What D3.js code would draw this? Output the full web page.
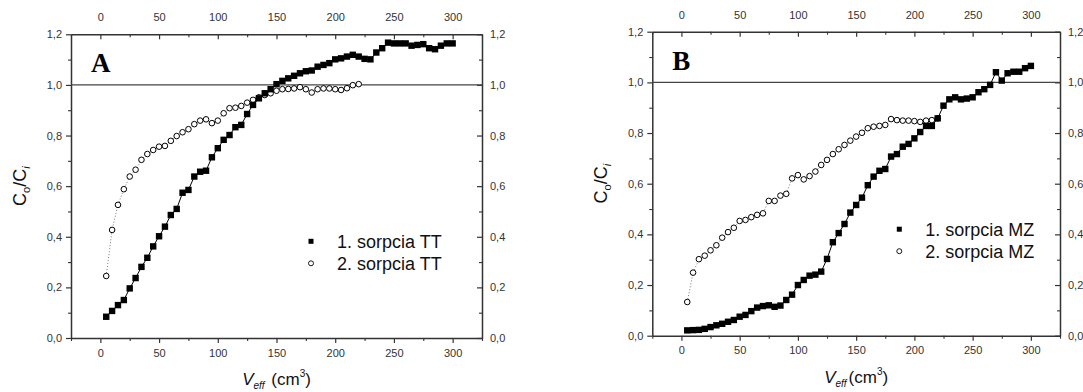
<!DOCTYPE html>
<html><head><meta charset="utf-8">
<script src="https://cdn.jsdelivr.net/npm/d3@7"></script>
<style>
body{margin:0;background:#fff;}
svg{display:block;font-family:Arial,"Liberation Sans",sans-serif;}
</style></head><body>
<svg id="c" width="1083" height="392"></svg>
<script>
// ---- data ----
const volA1 = [5,10,15,20,25,30,35,40,45,50,55,60,65,70,75,80,85,90,95,100,105,110,115,120,125,130,135,140,145,150,155,160,165,170,175,180,185,190,195,200,205,210,215,220,225,230,235,240,245,250,255,260,265,270,275,280,285,290,295,300];
const ccA1 = [0.084,0.107,0.130,0.150,0.196,0.237,0.281,0.317,0.362,0.402,0.440,0.486,0.510,0.574,0.585,0.638,0.657,0.661,0.714,0.750,0.783,0.802,0.833,0.842,0.885,0.921,0.947,0.967,0.983,1.003,1.016,1.026,1.036,1.046,1.054,1.057,1.072,1.079,1.086,1.101,1.105,1.112,1.119,1.112,1.103,1.101,1.128,1.145,1.167,1.164,1.164,1.164,1.155,1.158,1.161,1.145,1.141,1.155,1.164,1.164];
const volA2 = [5,10,15,20,25,30,35,40,45,50,55,60,65,70,75,80,85,90,95,100,105,110,115,120,125,130,135,140,145,150,155,160,165,170,175,180,185,190,195,200,205,210,215,220];
const ccA2 = [0.245,0.427,0.526,0.588,0.638,0.665,0.704,0.727,0.743,0.756,0.759,0.779,0.798,0.813,0.825,0.845,0.859,0.864,0.849,0.859,0.888,0.908,0.910,0.917,0.930,0.941,0.951,0.960,0.967,0.977,0.983,0.984,0.986,0.991,0.983,0.970,0.983,0.986,0.986,0.983,0.980,0.987,0.999,1.003];
const volB1 = [5,10,15,20,25,30,35,40,45,50,55,60,65,70,75,80,85,90,95,100,105,110,115,120,125,130,135,140,145,150,155,160,165,170,175,180,185,190,195,200,205,210,215,220,225,230,235,240,245,250,255,260,265,270,275,280,285,290,295,300];
const ccB1 = [0.021,0.022,0.023,0.027,0.034,0.041,0.047,0.055,0.062,0.075,0.082,0.097,0.111,0.117,0.120,0.114,0.119,0.141,0.162,0.200,0.220,0.237,0.241,0.253,0.303,0.369,0.405,0.441,0.486,0.516,0.545,0.594,0.628,0.651,0.658,0.707,0.717,0.746,0.757,0.779,0.804,0.828,0.828,0.858,0.908,0.933,0.941,0.933,0.936,0.941,0.961,0.973,0.990,1.040,1.007,1.036,1.042,1.042,1.056,1.065];
const volB2 = [5,10,15,20,25,30,35,40,45,50,55,60,65,70,75,80,85,90,95,100,105,110,115,120,125,130,135,140,145,150,155,160,165,170,175,180,185,190,195,200,205,210,215,220];
const ccB2 = [0.133,0.249,0.302,0.316,0.337,0.357,0.387,0.409,0.426,0.453,0.457,0.468,0.477,0.483,0.532,0.532,0.553,0.560,0.621,0.634,0.617,0.630,0.648,0.674,0.694,0.717,0.736,0.753,0.770,0.786,0.801,0.819,0.825,0.828,0.832,0.855,0.851,0.849,0.849,0.847,0.844,0.849,0.851,0.858];
const xTicks = [0,50,100,150,200,250,300];
const xMinor = [-25,25,75,125,175,225,275,325];
const yTicks = [0,0.2,0.4,0.6,0.8,1.0,1.2];
const yMinor = [0.1,0.3,0.5,0.7,0.9,1.1];
const xDomain = [-25,325];
const yDomain = [0,1.2];
const refLevel = 1.0;
const legendA = ["1. sorpcia TT","2. sorpcia TT"];
const legendB = ["1. sorpcia MZ","2. sorpcia MZ"];
const letters = ["A","B"];

const svg = d3.select("#c");
const fmt = v => d3.format(".1f")(v).replace(".", ",");
const axisCol = "#333";

function panel(o){
  const x = d3.scaleLinear().domain(xDomain).range([o.l, o.r]);
  const y = d3.scaleLinear().domain(yDomain).range([o.b, o.t]);
  const g = svg.append("g");
  const style = sel => {
    sel.select(".domain").attr("stroke", axisCol).attr("stroke-width", 1.5);
    sel.selectAll(".tick line").attr("stroke", axisCol).attr("stroke-width", 1.2);
    sel.selectAll(".tick text").attr("fill", "#333").style("font-size", "11px").style("font-family", "Arial,'Liberation Sans',sans-serif");
  };
  const minorStyle = sel => {
    sel.select(".domain").remove();
    sel.selectAll(".tick line").attr("stroke", axisCol).attr("stroke-width", 1.1);
    sel.selectAll(".tick text").remove();
  };
  g.append("g").attr("transform", `translate(0,${o.b})`)
    .call(d3.axisBottom(x).tickValues(xTicks).tickFormat(d3.format("d")).tickSize(5).tickSizeOuter(0).tickPadding(6)).call(style);
  g.append("g").attr("transform", `translate(0,${o.b})`)
    .call(d3.axisBottom(x).tickValues(xMinor).tickSize(3)).call(minorStyle);
  g.append("g").attr("transform", `translate(0,${o.t})`)
    .call(d3.axisTop(x).tickValues(xTicks).tickFormat(d3.format("d")).tickSizeInner(-5).tickSizeOuter(0).tickPadding(13)).call(style);
  g.append("g").attr("transform", `translate(0,${o.t})`)
    .call(d3.axisTop(x).tickValues(xMinor).tickSize(-3)).call(minorStyle);
  g.append("g").attr("transform", `translate(${o.l},0)`)
    .call(d3.axisLeft(y).tickValues(yTicks).tickFormat(fmt).tickSize(5).tickSizeOuter(0).tickPadding(4)).call(style);
  g.append("g").attr("transform", `translate(${o.l},0)`)
    .call(d3.axisLeft(y).tickValues(yMinor).tickSize(3)).call(minorStyle);
  g.append("g").attr("transform", `translate(${o.r},0)`)
    .call(d3.axisRight(y).tickValues(yTicks).tickFormat(fmt).tickSizeInner(-5).tickSizeOuter(0).tickPadding(8)).call(style);
  g.append("g").attr("transform", `translate(${o.r},0)`)
    .call(d3.axisRight(y).tickValues(yMinor).tickSize(-3)).call(minorStyle);

  g.append("line").attr("x1", o.l).attr("x2", o.r).attr("y1", y(refLevel)).attr("y2", y(refLevel))
    .attr("stroke", "#444").attr("stroke-width", 1.3);

  const d2 = o.x2.map((v,i)=>[v,o.y2[i]]);
  const d1 = o.x1.map((v,i)=>[v,o.y1[i]]);
  const line = d3.line().x(d=>x(d[0])).y(d=>y(d[1]));
  g.append("path").attr("d", line(d2)).attr("fill","none").attr("stroke","#777").attr("stroke-width",1).attr("stroke-dasharray","1,2");
  g.append("path").attr("d", line(d1)).attr("fill","none").attr("stroke","#000").attr("stroke-width",1);
  g.selectAll(".c").data(d2).join("circle").attr("cx",d=>x(d[0])).attr("cy",d=>y(d[1])).attr("r",2.8)
    .attr("fill","#fff").attr("stroke","#000").attr("stroke-width",1);
  g.selectAll(".s").data(d1).join("rect").attr("x",d=>x(d[0])-3.2).attr("y",d=>y(d[1])-3.2).attr("width",6.4).attr("height",6.4).attr("fill","#000");

  g.append("text").attr("x", o.l + 20).attr("y", o.t + 38).text(o.letter)
    .style("font-family","'Times New Roman','Liberation Serif',serif").style("font-weight","bold").style("font-size","27px");

  const lx = o.l + o.legX, ly = o.t + o.legY;
  g.append("rect").attr("x", lx-2.5).attr("y", ly-2.5).attr("width",5).attr("height",5).attr("fill","#000");
  g.append("circle").attr("cx", lx).attr("cy", ly+22).attr("r",2.5).attr("fill","#fff").attr("stroke","#000").attr("stroke-width",0.9);
  g.append("text").attr("x", lx+26).attr("y", ly+7).text(o.leg[0]).style("font-size","18px").attr("fill","#111");
  g.append("text").attr("x", lx+26).attr("y", ly+29).text(o.leg[1]).style("font-size","18px").attr("fill","#111");

  const xt = g.append("text").attr("x", (o.l+o.r)/2).attr("y", o.b + 47).attr("text-anchor","middle").style("font-size","17px").attr("fill","#111");
  xt.append("tspan").text("V").style("font-style","italic");
  xt.append("tspan").text("eff").style("font-style","italic").style("font-size","10px").attr("dy", 4);
  xt.append("tspan").text(o.gap + "(cm").attr("dy", -4).attr("dx", 2);
  xt.append("tspan").text("3").style("font-size","10px").attr("dy", -8);
  xt.append("tspan").text(")").attr("dy", 8);

  const yt = g.append("text").attr("transform", `translate(${o.l - 45},${(o.t+o.b)/2}) rotate(-90)`).attr("text-anchor","middle").style("font-size","18px").attr("fill","#111");
  yt.append("tspan").text("C");
  yt.append("tspan").text("o").style("font-size","11px").attr("dy", 4);
  yt.append("tspan").text("/C").attr("dy", -4);
  yt.append("tspan").text("i").style("font-size","11px").style("font-style","italic").attr("dy", 4);
}

panel({l:71, r:482, t:34.3, b:338, x1:volA1, y1:ccA1, x2:volA2, y2:ccA2, letter:letters[0], leg:legendA, legX:240, legY:207, gap:" "});
panel({l:652.3, r:1060, t:31.7, b:335.7, x1:volB1, y1:ccB1, x2:volB2, y2:ccB2, letter:letters[1], leg:legendB, legX:247, legY:197.5, gap:""});
</script>
</body></html>
